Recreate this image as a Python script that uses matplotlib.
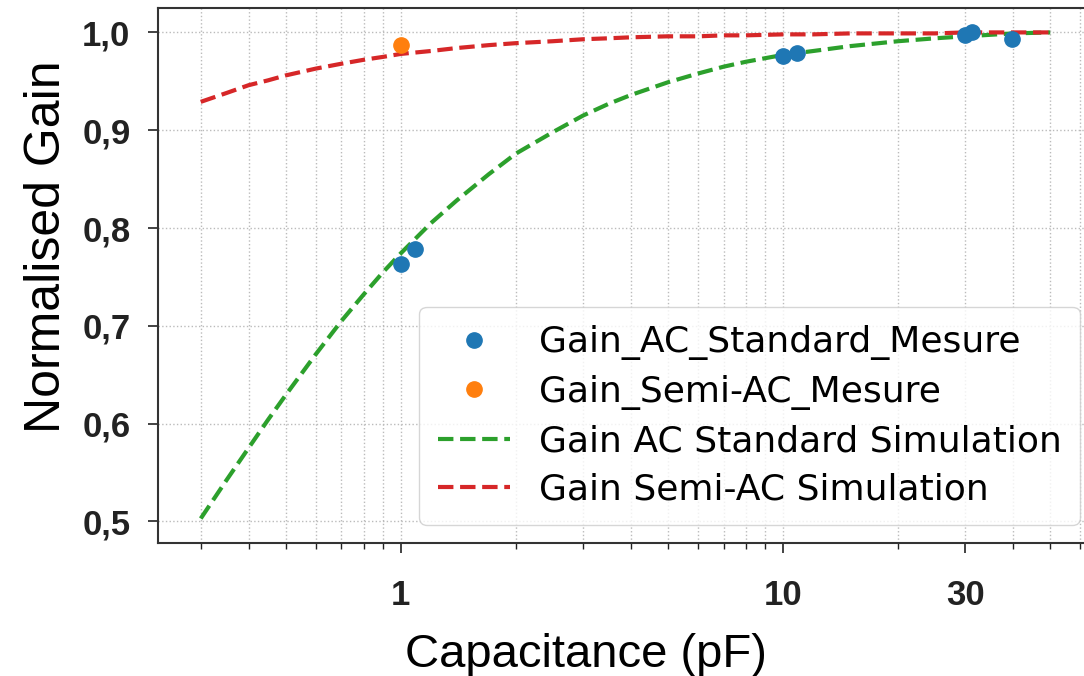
import matplotlib.pyplot as plt
import matplotlib.ticker as mticker

# simulation curves
c_sim = [0.3, 0.35, 0.4, 0.45, 0.5, 0.6, 0.7, 0.8, 0.9, 1, 1.2, 1.4, 1.7, 2, 2.5, 3,
         3.5, 4, 5, 6, 7, 8, 10, 12, 15, 20, 25, 30, 40, 50]
gain_ac_sim = [0.503, 0.542, 0.575, 0.604, 0.629, 0.671, 0.705, 0.732, 0.755, 0.774,
               0.805, 0.828, 0.855, 0.876, 0.898, 0.915, 0.927, 0.936, 0.949, 0.958,
               0.965, 0.970, 0.977, 0.981, 0.986, 0.991, 0.994, 0.996, 0.999, 1.0]
gain_semi_sim = [0.929, 0.938, 0.946, 0.951, 0.956, 0.963, 0.968, 0.972, 0.975, 0.978,
                 0.981, 0.984, 0.987, 0.989, 0.991, 0.993, 0.994, 0.995, 0.996, 0.996,
                 0.997, 0.997, 0.998, 0.998, 0.999, 0.999, 0.999, 1.0, 1.0, 1.0]

# measurements
c_ac_mes = [1.0, 1.09, 10.0, 10.9, 29.9, 31.2, 39.8]
gain_ac_mes = [0.763, 0.779, 0.976, 0.979, 0.997, 1.0, 0.993]
c_semi_mes = [1.0]
gain_semi_mes = [0.987]

xticks = [1, 10, 30]
yticks = [0.5, 0.6, 0.7, 0.8, 0.9, 1.0]

fig = plt.figure(figsize=(10.84, 6.76), dpi=100)
ax = fig.add_axes([0.146, 0.197, 0.862, 0.791])

ax.plot(c_ac_mes, gain_ac_mes, 'o', color='#1f77b4', ms=11, label='Gain_AC_Standard_Mesure', zorder=3)
ax.plot(c_semi_mes, gain_semi_mes, 'o', color='#ff7f0e', ms=11, label='Gain_Semi-AC_Mesure', zorder=3)
ax.plot(c_sim, gain_ac_sim, '--', color='#2ca02c', lw=3, label='Gain AC Standard Simulation')
ax.plot(c_sim, gain_semi_sim, '--', color='#d62728', lw=3, label='Gain Semi-AC Simulation')

ax.set_xscale('log')
ax.xaxis.set_major_locator(mticker.FixedLocator(xticks))
ax.xaxis.set_major_formatter(mticker.FixedFormatter([str(t) for t in xticks]))
ax.xaxis.set_minor_locator(mticker.LogLocator(base=10, subs=range(2, 10)))
ax.xaxis.set_minor_formatter(mticker.NullFormatter())
ax.set_yticks(yticks)
ax.set_yticklabels([f'{t:.1f}'.replace('.', ',') for t in yticks])

for lab in ax.get_xticklabels() + ax.get_yticklabels():
    lab.set_fontweight('bold')
    lab.set_family('Liberation Sans')
ax.tick_params(axis='both', which='major', labelsize=25, length=7, width=1.2, colors='#222222')
ax.tick_params(axis='y', which='major', pad=13)
ax.tick_params(axis='x', which='minor', length=4, width=1, colors='#222222')
ax.tick_params(axis='x', which='major', pad=19)

ax.grid(True, which='both', ls=':', color='#bbbbbb', lw=1)
for s in ax.spines.values():
    s.set_color('#333333')
    s.set_linewidth(1.5)

ax.set_xlabel('Capacitance (pF)', fontsize=34, family='Liberation Sans', labelpad=15, x=0.458)
ax.set_ylabel('Normalised Gain', fontsize=36, family='Liberation Sans', labelpad=9, y=0.553)

ax.legend(loc='lower right', bbox_to_anchor=(0.986, 0.034), borderaxespad=0,
          prop={'family': 'DejaVu Sans', 'size': 26}, handlelength=2.0, handletextpad=0.8,
          labelspacing=0.4, borderpad=0.5, framealpha=0.8)

fig.savefig('out.png', dpi=100)
